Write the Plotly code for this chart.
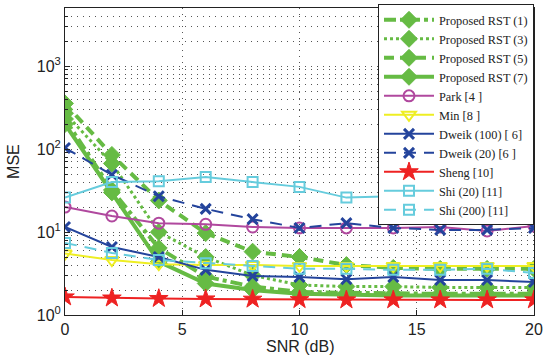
import plotly.graph_objects as go

snr = [0, 2, 4, 6, 8, 10, 12, 14, 16, 18, 20]

rst1 = [230, 32, 6.4, 2.9, 2.2, 1.9, 1.85, 1.8, 1.8, 1.8, 1.8]
rst3 = [270, 67, 10, 5.0, 3.0, 2.3, 2.2, 2.2, 2.15, 2.15, 2.15]
rst5 = [355, 85, 24, 9.7, 5.8, 5.0, 4.0, 3.7, 3.6, 3.6, 3.6]
rst7 = [200, 30, 4.4, 2.4, 2.0, 1.8, 1.75, 1.72, 1.72, 1.72, 1.72]
park = [20, 15.6, 12.8, 12.4, 11.5, 11.2, 11.2, 11.2, 11.5, 10.3, 11.8]
min_ = [5.5, 4.6, 4.1, 4.0, 4.0, 3.9, 3.9, 3.9, 3.9, 3.9, 3.9]
dweik100 = [11.5, 6.6, 5.0, 3.5, 2.95, 2.87, 2.7, 2.87, 2.64, 2.64, 2.5]
dweik20 = [103, 49, 27, 19, 14.3, 11.2, 12.8, 11.2, 10.6, 10.6, 11.2]
sheng = [1.65, 1.6, 1.58, 1.56, 1.55, 1.53, 1.52, 1.52, 1.52, 1.52, 1.52]
shi20 = [26, 40, 41, 46, 40, 35, 26, 27, 30, 32, 35]
shi200 = [7.4, 5.6, 4.6, 4.2, 3.9, 3.6, 3.6, 3.5, 3.5, 3.6, 3.2]

names = ["Proposed RST (1)", "Proposed RST (3)", "Proposed RST (5)", "Proposed RST (7)",
         "Park [4 ]", "Min [8 ]", "Dweik (100) [ 6]", "Dweik (20) [6 ]",
         "Sheng [10]", "Shi (20) [11]", "Shi (200) [11]"]

GREEN = "#66BB44"
MAG = "#B0489E"
YEL = "#EEEE22"
BLUE = "#24449C"
RED = "#EE2222"
CYAN = "#66CCDD"

series = [
    (rst1, GREEN, "dashdot", 4, "diamond", 13, 1),
    (rst3, GREEN, "dot", 3, "diamond", 13, 1),
    (rst5, GREEN, "10px,6px", 4, "diamond", 13, 1),
    (rst7, GREEN, "solid", 4, "diamond", 13, 1),
    (park, MAG, "solid", 2, "circle-open", 11, 2),
    (min_, YEL, "solid", 2, "triangle-down-open", 12, 2),
    (dweik100, BLUE, "solid", 2, "x-thin-open", 10, 3),
    (dweik20, BLUE, "12px,8px", 2, "x-thin-open", 10, 3),
    (sheng, RED, "solid", 2, "star", 14, 1),
    (shi20, CYAN, "solid", 2, "square-open", 10, 2),
    (shi200, CYAN, "12px,8px", 2, "square-open", 10, 2),
]

fig = go.Figure()
for name, (vals, col, dash, lw, sym, ms, mlw) in zip(names, series):
    fig.add_trace(go.Scatter(
        x=snr, y=vals, name=name, mode="lines+markers",
        line=dict(color=col, width=lw, dash=dash),
        marker=dict(symbol=sym, size=ms, color=col, line=dict(color=col, width=mlw)),
    ))

minor_vals = [m * 10 ** d for d in range(0, 4) for m in range(2, 10)]
GRID = "#555"
GDASH = "1px,5px"

fig.update_layout(
    width=543, height=356,
    margin=dict(l=65, r=9, t=8, b=41, autoexpand=False),
    paper_bgcolor="white", plot_bgcolor="white",
    font=dict(family="Liberation Sans", size=16, color="#222"),
    showlegend=True,
    legend=dict(x=1, xanchor="right", y=1.012, yanchor="top",
                bgcolor="white", bordercolor="#222", borderwidth=1,
                font=dict(family="Liberation Serif", size=12.3, color="#222"),
                itemwidth=50, tracegroupgap=0, maxheight=400),
    annotations=[
        dict(text="SNR (dB)", xref="paper", yref="paper", x=0.5, y=-0.104,
             xanchor="center", yanchor="middle", showarrow=False,
             font=dict(family="Liberation Sans", size=16, color="#222")),
        dict(text="MSE", xref="paper", yref="paper", x=-0.11, y=0.5,
             xanchor="center", yanchor="middle", showarrow=False, textangle=-90,
             font=dict(family="Liberation Sans", size=16, color="#222")),
    ],
)
fig.update_xaxes(
    range=[0, 20], tickvals=[0, 5, 10, 15, 20],
    showline=True, linecolor="#222", linewidth=1, mirror=True,
    ticks="inside", ticklen=5, tickcolor="#222",
    showgrid=True, gridcolor=GRID, griddash=GDASH, gridwidth=1,
    zeroline=False, tickfont=dict(size=16),
)
fig.update_yaxes(
    type="log", range=[0, 3.7],
    tickvals=[1, 10, 100, 1000],
    ticktext=["10<sup>0</sup>", "10<sup>1</sup>", "10<sup>2</sup>", "10<sup>3</sup>"],
    showline=True, linecolor="#222", linewidth=1, mirror=True,
    ticks="inside", ticklen=5, tickcolor="#222",
    showgrid=True, gridcolor=GRID, griddash=GDASH, gridwidth=1,
    minor=dict(tickvals=minor_vals, ticks="inside", ticklen=3, tickcolor="#222",
               showgrid=True, gridcolor=GRID, griddash=GDASH, gridwidth=1),
    zeroline=False, tickfont=dict(size=16),
)

fig.write_html("out.html", config={"displayModeBar": False},
               post_script="document.body.style.margin='0';document.body.style.overflow='hidden';")
